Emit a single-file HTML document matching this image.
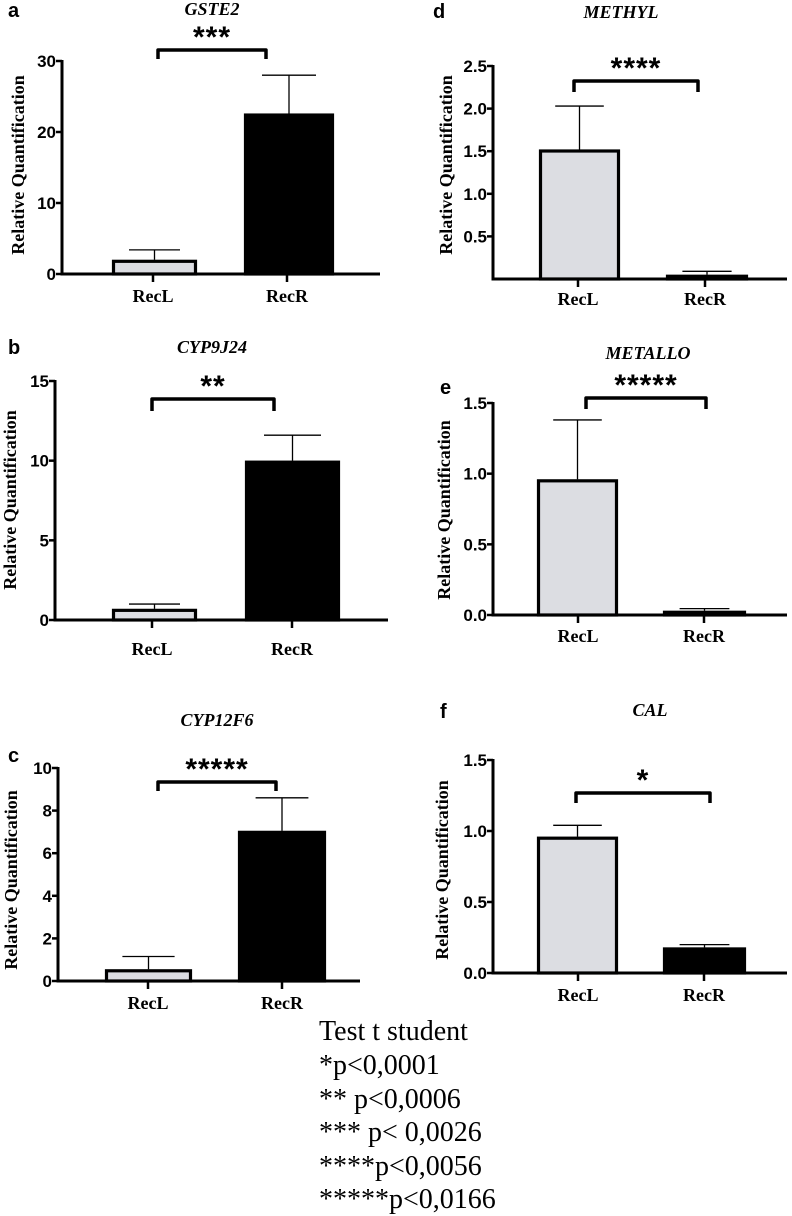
<!DOCTYPE html>
<html><head><meta charset="utf-8"><style>
html,body{margin:0;padding:0;background:#fff;}
svg{display:block;}
.tk{font-family:"Liberation Sans",sans-serif;font-weight:bold;font-size:17px;}
.yl{font-family:"Liberation Serif",serif;font-weight:bold;font-size:18px;}
.xl{font-family:"Liberation Serif",serif;font-weight:bold;font-size:18px;}
.ti{font-family:"Liberation Serif",serif;font-weight:bold;font-style:italic;font-size:18px;}
.pl{font-family:"Liberation Sans",sans-serif;font-weight:bold;font-size:20px;}
.st{font-family:"Liberation Sans",sans-serif;font-weight:bold;font-size:30px;}
.lg{font-family:"Liberation Serif",serif;font-size:28px;}
</style></head><body>
<svg id="fig" width="792" height="1216" viewBox="0 0 792 1216">
<g>
<text class="lg" x="319" y="1040">Test t student</text>
<text class="lg" x="319" y="1074">*p&lt;0,0001</text>
<text class="lg" x="319" y="1108">** p&lt;0,0006</text>
<text class="lg" x="319" y="1141">*** p&lt; 0,0026</text>
<text class="lg" x="319" y="1175">****p&lt;0,0056</text>
<text class="lg" x="319" y="1208">*****p&lt;0,0166</text>
</g>
</svg>
<script>
const categories = ["RecL", "RecR"];
const genes = ["GSTE2", "CYP9J24", "CYP12F6", "METHYL", "METALLO", "CAL"];
const panelLetters = ["a", "b", "c", "d", "e", "f"];
const recLValues = [2.0, 0.7, 0.55, 1.52, 0.96, 0.96];
const recLErrors = [3.4, 1.0, 1.15, 2.03, 1.38, 1.04];
const recRValues = [22.6, 10.0, 7.05, 0.05, 0.03, 0.18];
const recRErrors = [28.0, 11.6, 8.6, 0.09, 0.045, 0.2];
const stars = ["***", "**", "*****", "****", "*****", "*"];
const yMax = [30, 15, 10, 2.5, 1.5, 1.5];
const yTicks = [[0,10,20,30],[0,5,10,15],[0,2,4,6,8,10],[0.5,1.0,1.5,2.0,2.5],[0,0.5,1.0,1.5],[0,0.5,1.0,1.5]];
const yTickDecimals = [0,0,0,1,1,1];

// layout (not data)
const L = [
 {ax:62, y0:274, yTop:61, xEnd:380, bars:[[112,197],[244,334]], ticks:[153,287], br:[158,266,50,59], title:[212,15], letter:[8,17], ylab:[24,165], xlabY:302},
 {ax:55, y0:620, yTop:381, xEnd:388, bars:[[112,197],[245,340]], ticks:[152,292], br:[152,274,399,411], title:[212,353], letter:[8,354], ylab:[16,500], xlabY:655},
 {ax:58, y0:981, yTop:768, xEnd:360, bars:[[105,192],[238,326]], ticks:[148,282], br:[158,276,782,791], title:[217,726], letter:[8,762], ylab:[17,880], xlabY:1009},
 {ax:493, y0:279, yTop:66, xEnd:787, bars:[[539,620],[666,748]], ticks:[578,705], br:[574,698,81,92], title:[621,18], letter:[433,18], ylab:[452,165], xlabY:305},
 {ax:493, y0:615, yTop:403, xEnd:787, bars:[[537,618],[663,746]], ticks:[578,704], br:[586,706,398,409], title:[648,359], letter:[440,394], ylab:[450,510], xlabY:642},
 {ax:493, y0:973, yTop:760, xEnd:787, bars:[[537,618],[663,746]], ticks:[578,704], br:[576,710,793,803], title:[650,716], letter:[440,718], ylab:[448,870], xlabY:1001}
];
const NS = "http://www.w3.org/2000/svg";
const svg = document.getElementById("fig");
function mk(tag, attrs, parent, txt){
  const e = document.createElementNS(NS, tag);
  for (const k in attrs) e.setAttribute(k, attrs[k]);
  if (txt !== undefined) e.textContent = txt;
  parent.appendChild(e);
  return e;
}
genes.forEach((gene, i) => {
  const c = L[i];
  const yScale = v => c.y0 - (v / yMax[i]) * (c.y0 - c.yTop);
  const g = mk("g", {}, svg);
  
  
  const lt = mk("text", {class:"pl", x:c.letter[0], y:c.letter[1]}, g, panelLetters[i]);
  
  
  const tt = mk("text", {class:"ti", x:c.title[0], y:c.title[1], "text-anchor":"middle"}, g, gene);
  
  
  const yl = mk("text", {class:"yl", x:0, y:0, "text-anchor":"middle", transform:`translate(${c.ylab[0]},${c.ylab[1]}) rotate(-90)`}, g, "Relative Quantification");
  
  
  const vals = [recLValues[i], recRValues[i]];
  const errs = [recLErrors[i], recRErrors[i]];
  vals.forEach((v, j) => {
    const [x1, x2] = c.bars[j];
    const cx = (x1 + x2) / 2;
    const ey = yScale(errs[j]);
    const el = mk("line", {x1:cx, x2:cx, y1:ey, y2:yScale(v), stroke:"#000", "stroke-width":1.3}, g);
    
    
    const cap = mk("line", {x1:cx-(x2-x1)*0.3, x2:cx+(x2-x1)*0.3, y1:ey, y2:ey, stroke:"#000", "stroke-width":1.3}, g);
    
    
    const yt = yScale(v);
    const r = mk("rect", {x:x1+1.5, y:yt+1.5, width:x2-x1-3, height:Math.max(c.y0-yt-1.5,0.5), fill: j===0?"#dcdde2":"#000", stroke:"#000", "stroke-width":3.2}, g);
    
    
  });
  const ya = mk("line", {x1:c.ax, x2:c.ax, y1:c.yTop-1, y2:c.y0+1.5, stroke:"#000", "stroke-width":3}, g);
  
  
  const xa = mk("line", {x1:c.ax-1.5, x2:c.xEnd, y1:c.y0, y2:c.y0, stroke:"#000", "stroke-width":3}, g);
  
  
  yTicks[i].forEach(t => {
    const y = yScale(t);
    const tl = mk("line", {x1:c.ax-6, x2:c.ax, y1:y, y2:y, stroke:"#000", "stroke-width":2.5}, g);
    
    
    const tx = mk("text", {class:"tk", x:c.ax-6, y:y+6, "text-anchor":"end"}, g, t.toFixed(yTickDecimals[i]));
    
    
  });
  categories.forEach((cat, j) => {
    const x = c.ticks[j];
    const tl = mk("line", {x1:x, x2:x, y1:c.y0, y2:c.y0+8, stroke:"#000", "stroke-width":2.5}, g);
    
    
    const tx = mk("text", {class:"xl", x:x, y:c.xlabY, "text-anchor":"middle"}, g, cat);
    
    
  });
  const [bx1, bx2, by1, by2] = c.br;
  const bp = mk("path", {d:`M${bx1},${by2} L${bx1},${by1} L${bx2},${by1} L${bx2},${by2}`, fill:"none", stroke:"#000", "stroke-width":3.5, "stroke-linejoin":"round"}, g);
  
  
  const st = mk("text", {class:"st", x:(bx1+bx2)/2, y:by1-3, "text-anchor":"middle", "letter-spacing":"1"}, g, stars[i]);
  
  
});
</script>
</body></html>
